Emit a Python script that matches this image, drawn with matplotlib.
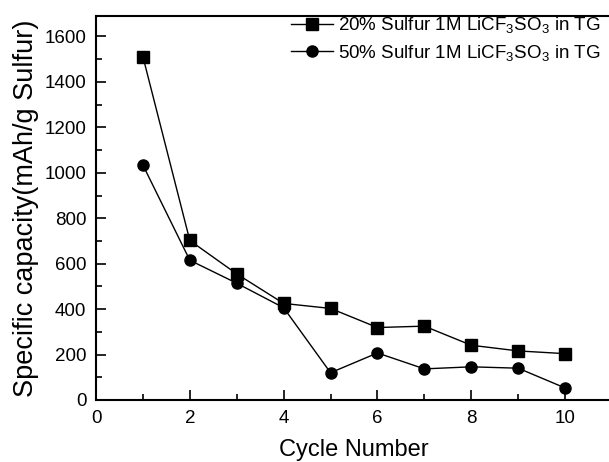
import numpy as np
import matplotlib
matplotlib.use('Agg')
import matplotlib.pyplot as plt
from matplotlib.ticker import MultipleLocator

plt.rcParams['font.family'] = ['Liberation Sans', 'DejaVu Sans']
plt.rcParams['mathtext.fontset'] = 'custom'
plt.rcParams['mathtext.rm'] = 'Liberation Sans'
plt.rcParams['mathtext.it'] = 'Liberation Sans'

cycles = [1, 2, 3, 4, 5, 6, 7, 8, 9, 10]
cap_20 = [1511, 702, 555, 425, 403, 319, 325, 241, 216, 204]
cap_50 = [1034, 615, 514, 406, 120, 207, 137, 146, 140, 53]
labels = ['20% Sulfur 1M LiCF$_3$SO$_3$ in TG',
          '50% Sulfur 1M LiCF$_3$SO$_3$ in TG']

fig = plt.figure(figsize=(6.09, 4.62), dpi=100)
ax = fig.add_axes([96/609, 62/462, 516/609, 384/462])

ax.plot(cycles, cap_20, '-s', color='black', lw=1, ms=8, label=labels[0])
ax.plot(cycles, cap_50, '-o', color='black', lw=1, ms=8, label=labels[1])

ax.set_xlim(0, 11)
ax.set_ylim(0, 1690)
ax.xaxis.set_major_locator(MultipleLocator(2))
ax.xaxis.set_minor_locator(MultipleLocator(1))
ax.yaxis.set_major_locator(MultipleLocator(200))
ax.yaxis.set_minor_locator(MultipleLocator(100))
ax.tick_params(which='both', direction='in', labelsize=13.5, width=1.2)
ax.tick_params(which='major', length=7, pad=7)
ax.tick_params(which='minor', length=4)
for s in ax.spines.values():
    s.set_linewidth(1.5)

ax.set_xlabel('Cycle Number', fontsize=17, labelpad=9)
ax.set_ylabel('Specific capacity(mAh/g Sulfur)', fontsize=19.5, labelpad=4)

ax.legend(loc='upper right', bbox_to_anchor=(612/609, 458/462),
          bbox_transform=fig.transFigure, frameon=False, fontsize=13.5,
          handlelength=2.2, handletextpad=0.3, labelspacing=0.4,
          borderpad=0.1)

fig.savefig('out.png', dpi=100)
